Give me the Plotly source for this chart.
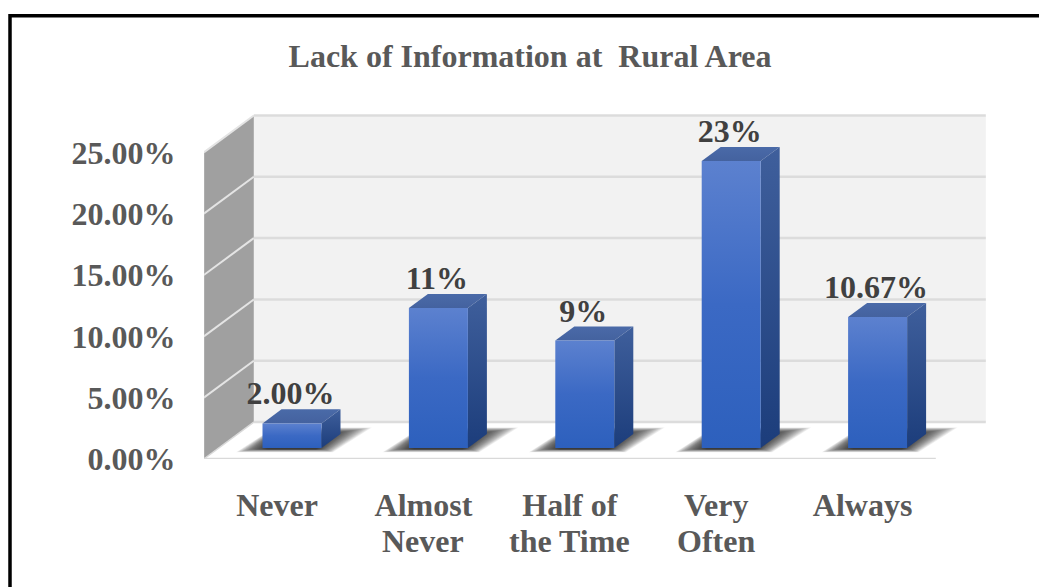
import plotly.graph_objects as go

category_line1 = ["Never", "Almost", "Half of", "Very", "Always"]
category_line2 = ["", "Never", "the Time", "Often", ""]
bar_values = [2.0, 11.4, 8.75, 23.4, 10.67]
bar_labels = ["2.00%", "11%", "9%", "23%", "10.67%"]
y_ticks = [0, 5, 10, 15, 20, 25]
y_tick_labels = ["0.00%", "5.00%", "10.00%", "15.00%", "20.00%", "25.00%"]
title_text = "Lack of Information at  Rural Area"

W, H = 1039, 587
L, R, T, B = 204, 1000, 105, 459.5
PX_X = 146.4
PX_Y = 12.28
X0 = 277.0


def u(px):
    return (px - X0) / PX_X


def v(px):
    return (B - px) / PX_Y


DX = 50 / PX_X
DY = 37 / PX_Y
BAR_W = 59 / PX_X
D0, D1 = 0.30, 0.68
x_left, x_right = -0.5, 4.5
px = 1 / PX_X
py = 1 / PX_Y


def pt(x, y, d):
    return x + d * DX, y + d * DY


def poly(points, color=None, grad=None):
    xs = [p[0] for p in points] + [points[0][0]]
    ys = [p[1] for p in points] + [points[0][1]]
    kw = dict(x=xs, y=ys, mode="lines", line=dict(width=0), fill="toself",
              hoverinfo="skip", showlegend=False)
    if grad:
        n = len(grad) - 1
        kw["fillgradient"] = dict(type="vertical",
                                  colorscale=[[k / n, c] for k, c in enumerate(grad)])
    else:
        kw["fillcolor"] = color
    return go.Scatter(**kw)


def seg(a, b, color, width):
    return go.Scatter(x=[a[0], b[0]], y=[a[1], b[1]], mode="lines",
                      line=dict(color=color, width=width), hoverinfo="skip",
                      showlegend=False)


fig = go.Figure()

top = y_ticks[-1]
fig.add_trace(poly([pt(x_left, 0, 1), pt(x_right, 0, 1), pt(x_right, top, 1), pt(x_left, top, 1)], "#f2f2f2"))
fig.add_trace(poly([pt(x_left, 0, 0), pt(x_left, 0, 1), pt(x_left, top, 1), pt(x_left, top, 0)], "#a0a0a0"))
for t in y_ticks:
    fig.add_trace(seg(pt(x_left, t, 1), pt(x_right, t, 1), "#dcdcdc", 2.5))
    if t:
        fig.add_trace(seg(pt(x_left, t, 0), pt(x_left, t, 1), "#e4e4e4", 2))
fig.add_trace(seg(pt(x_left, 0, 0), pt(x_left, 0, 1), "#d9d9d9", 1.5))
fig.add_trace(seg(pt(x_left, 0, 0), pt(x_right, 0, 0), "#d9d9d9", 2.5))
fig.add_trace(seg(pt(x_left, 0, 0), pt(x_left, top, 0), "#d0d0d0", 1))

# soft floor shadows: many faint stacked quadrilaterals offset from each bar's footprint
SH_STEPS = list(range(14, -15, -1))
for i, val in enumerate(bar_values):
    x0 = i + D0 * DX - BAR_W / 2
    x1 = i + D0 * DX + BAR_W / 2
    y_f = D0 * DY
    for g in SH_STEPS:
        bottom = y_f - (1.5 + 0.2 * max(g, 0)) * py
        fig.add_trace(poly([
            (x0 - (11 + 1.1 * g) * px, bottom),
            (x1 + (3 + 0.6 * g) * px, bottom),
            (x1 + (28 + 1.6 * g) * px, y_f + (17 + 0.25 * g) * py),
            (x0 + 12 * px, y_f + (17 + 0.25 * g) * py),
        ], "rgba(10,10,10,0.054)"))

for i, val in enumerate(bar_values):
    x0 = i - BAR_W / 2
    x1 = i + BAR_W / 2
    fig.add_trace(poly([pt(x0, val, D0), pt(x0, val, D1), pt(x1, val, D1), pt(x1, val, D0)],
                       grad=["#44629f", "#4a6aa8"]))
    fig.add_trace(poly([pt(x1, 0, D0), pt(x1, 0, D1), pt(x1, val, D1), pt(x1, val, D0)],
                       grad=["#1c3d7b", "#3f5f9c"]))
    fig.add_trace(poly([pt(x0, 0, D0), pt(x1, 0, D0), pt(x1, val, D0), pt(x0, val, D0)],
                       grad=["#2d60bd", "#3b69c4", "#5c81cf"]))

fig.add_trace(go.Scatter(
    x=[pt(i, val, 0.27)[0] for i, val in enumerate(bar_values)],
    y=[pt(i, val, D1)[1] - 3 * py for i, val in enumerate(bar_values)],
    mode="text", text=bar_labels, textposition="top center",
    textfont=dict(family="Liberation Serif", size=32, color="#404040", weight="bold"),
    hoverinfo="skip", showlegend=False, cliponaxis=False,
))

TICK_FONT = dict(family="Liberation Serif", size=32, color="#595959")

fig.update_layout(
    width=W, height=H, autosize=False,
    margin=dict(l=L, r=W - R, t=T, b=H - B),
    paper_bgcolor="white", plot_bgcolor="white",
    showlegend=False,
    title=dict(text=f"<b>{title_text}</b>", x=530 / W, xanchor="center",
               y=1 - 56 / H, yanchor="middle",
               font=dict(family="Liberation Serif", size=32, color="#595959")),
    font=dict(family="Liberation Serif", color="#595959"),
    xaxis=dict(range=[u(L), u(R)], tickmode="array", tickvals=list(range(len(category_line1))),
               ticktext=[f"<b>{c}</b>" for c in category_line1], showgrid=False, zeroline=False,
               showline=False, ticks="outside", ticklen=18, tickcolor="rgba(0,0,0,0)",
               tickfont=TICK_FONT),
    yaxis=dict(range=[v(B), v(T)], tickmode="array", tickvals=y_ticks,
               ticktext=[f"<b>{t}</b>" for t in y_tick_labels], showgrid=False, zeroline=False,
               showline=False, ticks="outside", ticklen=21, tickcolor="rgba(0,0,0,0)",
               tickfont=TICK_FONT),
    annotations=[dict(x=i, y=(B - 542) / (B - T), xref="x", yref="paper", text=f"<b>{c}</b>",
                      showarrow=False, xanchor="center", yanchor="middle", font=TICK_FONT)
                 for i, c in enumerate(category_line2) if c],
    shapes=[dict(type="rect", xref="paper", yref="paper", layer="above",
                 x0=(10 - L) / (R - L), x1=(1060 - L) / (R - L),
                 y0=(B - 620) / (B - T), y1=(B - 15.5) / (B - T),
                 line=dict(color="black", width=3.5), fillcolor="rgba(0,0,0,0)")],
)

fig.write_html("out.html", default_width=f"{W}px", default_height=f"{H}px",
               config=dict(displayModeBar=False),
               post_script="document.body.style.margin='0';document.documentElement.style.overflow='hidden';")
